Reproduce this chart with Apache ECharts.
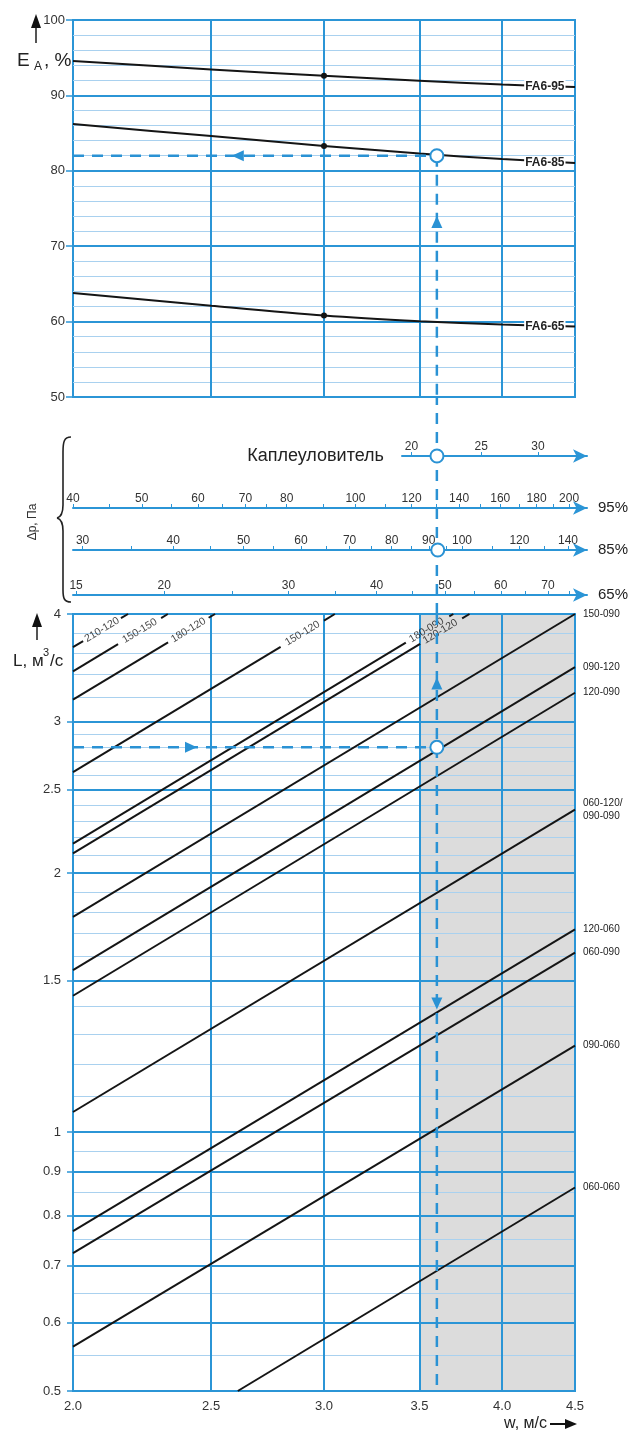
<!DOCTYPE html>
<html>
<head>
<meta charset="utf-8">
<title>FA6</title>
<script src="https://cdn.jsdelivr.net/npm/echarts@6/dist/echarts.min.js"></script>
<style>html,body{margin:0;padding:0;background:#fff;}</style>
</head>
<body>
<div id="main" style="width:631px;height:1433px;"></div>
<script>
var chart = echarts.init(document.getElementById('main'));

var BLUE = '#2b95d6', BLUE_MINOR = '#a9d1ef', DASH = '#2a92d4', INK = '#151515', TXT = '#333';
var FONT = "'Liberation Sans Narrow', 'Liberation Sans', Arial, sans-serif";

// --- top chart: E_A, % against w, m/s
var effW = [2.0, 2.5, 3.0, 3.5, 4.0, 4.5];
var effNames = ['FA6-95', 'FA6-85', 'FA6-65'];
var fa95 = [94.55, 93.45, 92.6, 91.95, 91.45, 91.1];
var fa85 = [86.2, 84.6, 83.3, 82.3, 81.55, 81.05];
var fa65 = [63.8, 62.1, 60.8, 60.05, 59.6, 59.35];

// --- axis ticks
var wTicks = [2.0, 2.5, 3.0, 3.5, 4.0, 4.5];
var wInner = [2.5, 3.0, 3.5, 4.0];
var lTicks = [0.5, 0.6, 0.7, 0.8, 0.9, 1, 1.5, 2, 2.5, 3, 4];
var lMinor = [0.55, 0.65, 0.75, 0.85, 0.95, 1.1, 1.2, 1.3, 1.4, 1.6, 1.7, 1.8, 1.9,
              2.1, 2.2, 2.3, 2.4, 2.6, 2.7, 2.8, 2.9, 3.2, 3.4, 3.6, 3.8];

// --- pressure drop scales (Па) between the charts
var scaleNames = ['Каплеуловитель', '95%', '85%', '65%'];
var scaleRange = [[19.4, 35.1], [40, 212], [29.1, 148.7], [14.85, 79.5]];
var scaleLabels = [
  [20, 25, 30],
  [40, 50, 60, 70, 80, 100, 120, 140, 160, 180, 200],
  [30, 40, 50, 60, 70, 80, 90, 100, 120, 140],
  [15, 20, 30, 40, 50, 60, 70]
];
var scaleTicks = [
  [20, 25, 30],
  [40, 45, 50, 55, 60, 65, 70, 75, 80, 90, 100, 110, 120, 130, 140, 150, 160, 170, 180, 190, 200],
  [30, 35, 40, 45, 50, 55, 60, 65, 70, 75, 80, 85, 90, 95, 100, 110, 120, 130, 140],
  [15, 20, 25, 30, 35, 40, 45, 50, 55, 60, 65, 70, 75]
];

// --- bottom chart: L, m3/s against w, m/s (straight lines on log-log)
var flowNames = ['210-120', '150-150', '180-120', '150-120', '180-090', '120-120',
                 '150-090', '090-120', '120-090', '060-120/\n090-090', '120-060', '060-090', '090-060', '060-060'];
var flowStart = [[2.0, 3.66], [2.0, 3.43], [2.0, 3.18], [2.0, 2.62], [2.0, 2.164], [2.0, 2.108],
                 [2.0, 1.778], [2.0, 1.542], [2.0, 1.44], [2.0, 1.055], [2.0, 0.767], [2.0, 0.723], [2.0, 0.563], [2.61, 0.5]];
var flowEnd = [[2.186, 4], [2.331, 4], [2.516, 4], [3.053, 4], [3.697, 4], [3.795, 4],
               [4.5, 4], [4.5, 3.47], [4.5, 3.24], [4.5, 2.37], [4.5, 1.72], [4.5, 1.616], [4.5, 1.26], [4.5, 0.862]];
// the first six lines are cut by their slanted label
var gapFrom = [[2.033, 3.72], [2.151, 3.691], [2.332, 3.708], [2.797, 3.664], [3.424, 3.705], [3.504, 3.693]];
var gapTo = [[2.161, 3.955], [2.306, 3.957], [2.49, 3.96], [3.0, 3.93], [3.673, 3.975], [3.75, 3.953]];
var gapLabel = [[2.096, 3.835], [2.228, 3.823], [2.41, 3.83], [2.898, 3.797], [3.54, 3.83], [3.62, 3.815]];
var shaded = [3.5, 4.5];

// --- example reading (dashed)
var readW = 3.6, readEA = 82, readL = 2.8, readKapl = 21.7, read85 = 92.6;
var arrowsTop = [[2.61, 82, 90], [3.6, 73.2, 0]];
var arrowsBottom = [[2.42, 2.8, -90], [3.6, 3.32, 0], [3.6, 1.41, 180]];

var grids = [
  {left: 73, width: 502, top: 20, height: 377, show: true, borderColor: BLUE, borderWidth: 2, backgroundColor: 'transparent', z: 1},
  {left: 73, width: 502, top: 397, height: 217},
  {left: 73, width: 502, top: 614, height: 777, show: true, borderColor: BLUE, borderWidth: 2, backgroundColor: 'transparent', z: 1}
];
var labelFont = {fontSize: 13, color: TXT, fontFamily: FONT};

var xAxes = [
  {gridIndex: 0, type: 'log', min: 2, max: 4.5, z: 1,
   axisLine: {show: false}, axisTick: {show: false, customValues: wInner}, axisLabel: {show: false},
   splitLine: {show: true, lineStyle: {color: BLUE, width: 2}}},
  {gridIndex: 1, type: 'log', min: 2, max: 4.5, show: false},
  {gridIndex: 2, type: 'log', min: 2, max: 4.5, z: 1,
   axisLine: {show: false}, axisTick: {show: false, customValues: wTicks},
   axisLabel: Object.assign({customValues: wTicks, margin: 9, formatter: function (v) { return v.toFixed(1); }}, labelFont),
   splitLine: {show: true, lineStyle: {color: BLUE, width: 2}}}
];
var yAxes = [
  {gridIndex: 0, type: 'value', position: 'left', min: 50, max: 100, interval: 2, z: 1,
   axisLine: {show: false}, axisTick: {show: false}, axisLabel: {show: false},
   splitLine: {show: true, lineStyle: {color: BLUE_MINOR, width: 1}}},
  {gridIndex: 0, type: 'value', position: 'left', min: 50, max: 100, interval: 10, z: 1,
   axisLine: {show: false}, axisTick: {show: true, length: 7, lineStyle: {color: BLUE, width: 1.5}},
   axisLabel: Object.assign({margin: 8}, labelFont),
   splitLine: {show: true, lineStyle: {color: BLUE, width: 2}}},
  {gridIndex: 1, type: 'value', min: 0, max: 1, show: false},
  {gridIndex: 2, type: 'log', position: 'left', min: 0.5, max: 4, z: 1,
   axisLine: {show: false}, axisTick: {show: false, customValues: lMinor}, axisLabel: {show: false},
   splitLine: {show: true, lineStyle: {color: BLUE_MINOR, width: 1}}},
  {gridIndex: 2, type: 'log', position: 'left', min: 0.5, max: 4, z: 1,
   axisLine: {show: false}, axisTick: {show: true, customValues: lTicks, length: 6, lineStyle: {color: BLUE, width: 1.5}},
   axisLabel: Object.assign({customValues: lTicks, margin: 12, formatter: function (v) { return String(v); }}, labelFont),
   splitLine: {show: true, lineStyle: {color: BLUE, width: 2}}}
];

var scaleLayout = [{left: 402, y: 456}, {left: 73, y: 508}, {left: 73, y: 550}, {left: 73, y: 595}];
scaleLayout.forEach(function (s, i) {
  grids.push({left: s.left, right: 44, top: s.y - 10, height: 10});
  xAxes.push({
    gridIndex: 3 + i, type: 'log', position: 'bottom', min: scaleRange[i][0], max: scaleRange[i][1],
    name: scaleNames[i], nameLocation: i === 0 ? 'start' : 'end', nameGap: i === 0 ? 18 : 11,
    nameTextStyle: {fontSize: i === 0 ? 18 : 15, color: '#222', fontFamily: FONT},
    axisLine: {show: true, symbol: ['none', 'arrow'], symbolSize: [10, 14], lineStyle: {color: BLUE, width: 2}},
    axisTick: {show: true, inside: true, length: 4, customValues: scaleTicks[i], lineStyle: {color: BLUE, width: 1}},
    axisLabel: {inside: true, margin: 3, customValues: scaleLabels[i], fontSize: 12, color: TXT, fontFamily: FONT,
                formatter: function (v) { return String(v); }},
    splitLine: {show: false}
  });
  yAxes.push({gridIndex: 3 + i, type: 'value', min: 0, max: 1, show: false});
});

var series = [];

// efficiency curves
[fa95, fa85, fa65].forEach(function (vals, i) {
  series.push({
    type: 'line', name: effNames[i], xAxisIndex: 0, yAxisIndex: 1, smooth: 0.3, symbol: 'none',
    lineStyle: {color: INK, width: 2}, itemStyle: {color: INK},
    data: effW.map(function (w, j) {
      var item = {value: [w, vals[j]]};
      if (w === 3.0) { item.symbol = 'circle'; item.symbolSize = 6; }
      if (j === effW.length - 1) {
        item.symbol = 'rect'; item.symbolSize = 1; item.itemStyle = {color: 'transparent'};
        item.label = {show: true, position: 'left', distance: 9, formatter: effNames[i],
                      fontSize: 12, fontWeight: 'bold', color: '#222', fontFamily: FONT,
                      backgroundColor: '#fff', padding: [1, 1]};
      }
      return item;
    })
  });
});

// flow lines
flowNames.forEach(function (name, i) {
  var base = {type: 'line', name: name, xAxisIndex: 2, yAxisIndex: 4, symbol: 'none',
              lineStyle: {color: INK, width: 2}};
  if (i < gapFrom.length) {
    series.push(Object.assign({}, base, {data: [flowStart[i], gapFrom[i]]}));
    series.push(Object.assign({}, base, {data: [gapTo[i], flowEnd[i]]}));
  } else {
    series.push(Object.assign({}, base, {
      data: [flowStart[i], flowEnd[i]],
      endLabel: {show: true, formatter: name, distance: 8, fontSize: 10, lineHeight: 13, color: '#222', fontFamily: FONT}
    }));
  }
});
series[3].markArea = {silent: true, z: 0, itemStyle: {color: '#dcdcdc'},
                      data: [[{xAxis: shaded[0]}, {xAxis: shaded[1]}]]};

series.push({
  type: 'scatter', xAxisIndex: 2, yAxisIndex: 4, symbol: 'rect', symbolSize: 1,
  itemStyle: {color: 'transparent'},
  label: {show: true, position: 'inside', rotate: 31, formatter: '{b}', fontSize: 10.5, color: '#111', fontFamily: FONT},
  data: gapLabel.map(function (p, i) { return {name: flowNames[i], value: p}; })
});

// dashed reading path
var dashStyle = {color: DASH, width: 2.5, type: [11, 8]};
function dashed(xi, yi, data) {
  series.push({type: 'line', xAxisIndex: xi, yAxisIndex: yi, symbol: 'none', lineStyle: dashStyle, data: data});
}
dashed(0, 1, [[2.0, readEA], [readW, readEA]]);
dashed(0, 1, [[readW, readEA], [readW, 50]]);
dashed(1, 2, [[readW, 0], [readW, 1]]);
dashed(2, 4, [[readW, 4], [readW, 0.5]]);
dashed(2, 4, [[2.0, readL], [readW, readL]]);

function arrows(xi, yi, list) {
  series.push({
    type: 'scatter', z: 3, xAxisIndex: xi, yAxisIndex: yi, symbol: 'triangle', symbolSize: [11, 12],
    itemStyle: {color: DASH, opacity: 1},
    data: list.map(function (a) { return {value: [a[0], a[1]], symbolRotate: a[2]}; })
  });
}
arrows(0, 1, arrowsTop);
arrows(2, 4, arrowsBottom);

var ring = {color: '#fff', borderColor: DASH, borderWidth: 2, opacity: 1};
function circle(xi, yi, p) {
  series.push({type: 'scatter', z: 4, xAxisIndex: xi, yAxisIndex: yi, symbol: 'circle', symbolSize: 13,
               itemStyle: ring, data: [p]});
}
circle(0, 1, [readW, readEA]);
circle(2, 4, [readW, readL]);
circle(3, 5, [readKapl, 0]);
circle(5, 7, [read85, 0]);

var brace = {stroke: '#222', lineWidth: 1.6, fill: null};
var graphic = [
  {type: 'text', x: 17, y: 61, style: {text: 'E', fontSize: 19, fontFamily: FONT, fill: '#222', verticalAlign: 'middle'}},
  {type: 'text', x: 34, y: 67, style: {text: 'A', fontSize: 12, fontFamily: FONT, fill: '#222', verticalAlign: 'middle'}},
  {type: 'text', x: 44, y: 61, style: {text: ', %', fontSize: 19, fontFamily: FONT, fill: '#222', verticalAlign: 'middle'}},
  {type: 'line', shape: {x1: 36, y1: 27, x2: 36, y2: 43}, style: {stroke: '#555', lineWidth: 2}},
  {type: 'polygon', shape: {points: [[31, 28], [41, 28], [36, 14]]}, style: {fill: '#111'}},

  {type: 'text', x: 13, y: 661, style: {text: 'L, м', fontSize: 17, fontFamily: FONT, fill: '#222', verticalAlign: 'middle'}},
  {type: 'text', x: 43, y: 653, style: {text: '3', fontSize: 11, fontFamily: FONT, fill: '#222', verticalAlign: 'middle'}},
  {type: 'text', x: 50, y: 661, style: {text: '/с', fontSize: 17, fontFamily: FONT, fill: '#222', verticalAlign: 'middle'}},
  {type: 'line', shape: {x1: 37, y1: 627, x2: 37, y2: 640}, style: {stroke: '#555', lineWidth: 2}},
  {type: 'polygon', shape: {points: [[32, 627], [42, 627], [37, 613]]}, style: {fill: '#111'}},

  {type: 'text', x: 33, y: 522, rotation: Math.PI / 2,
   style: {text: 'Δp, Па', fontSize: 12, fontFamily: FONT, fill: '#333', align: 'center', verticalAlign: 'middle'}},
  {type: 'bezierCurve', shape: {x1: 71, y1: 437, cpx1: 64, cpy1: 437, cpx2: 63, cpy2: 442, x2: 63, y2: 452}, style: brace},
  {type: 'line', shape: {x1: 63, y1: 452, x2: 63, y2: 505}, style: brace},
  {type: 'bezierCurve', shape: {x1: 63, y1: 505, cpx1: 63, cpy1: 513, cpx2: 61, cpy2: 517, x2: 57, y2: 518}, style: brace},
  {type: 'bezierCurve', shape: {x1: 57, y1: 518, cpx1: 61, cpy1: 519, cpx2: 63, cpy2: 523, x2: 63, y2: 531}, style: brace},
  {type: 'line', shape: {x1: 63, y1: 531, x2: 63, y2: 590}, style: brace},
  {type: 'bezierCurve', shape: {x1: 63, y1: 590, cpx1: 63, cpy1: 598, cpx2: 64, cpy2: 602, x2: 71, y2: 602}, style: brace},

  {type: 'text', x: 547, y: 1424, style: {text: 'w, м/с', fontSize: 16, fontFamily: FONT, fill: '#222', align: 'right', verticalAlign: 'middle'}},
  {type: 'line', shape: {x1: 550, y1: 1424, x2: 566, y2: 1424}, style: {stroke: '#111', lineWidth: 2}},
  {type: 'polygon', shape: {points: [[565, 1419], [565, 1429], [577, 1424]]}, style: {fill: '#111'}}
];

chart.setOption({
  animation: false,
  backgroundColor: '#fff',
  grid: grids,
  xAxis: xAxes,
  yAxis: yAxes,
  series: series,
  graphic: graphic
});
</script>
</body>
</html>
